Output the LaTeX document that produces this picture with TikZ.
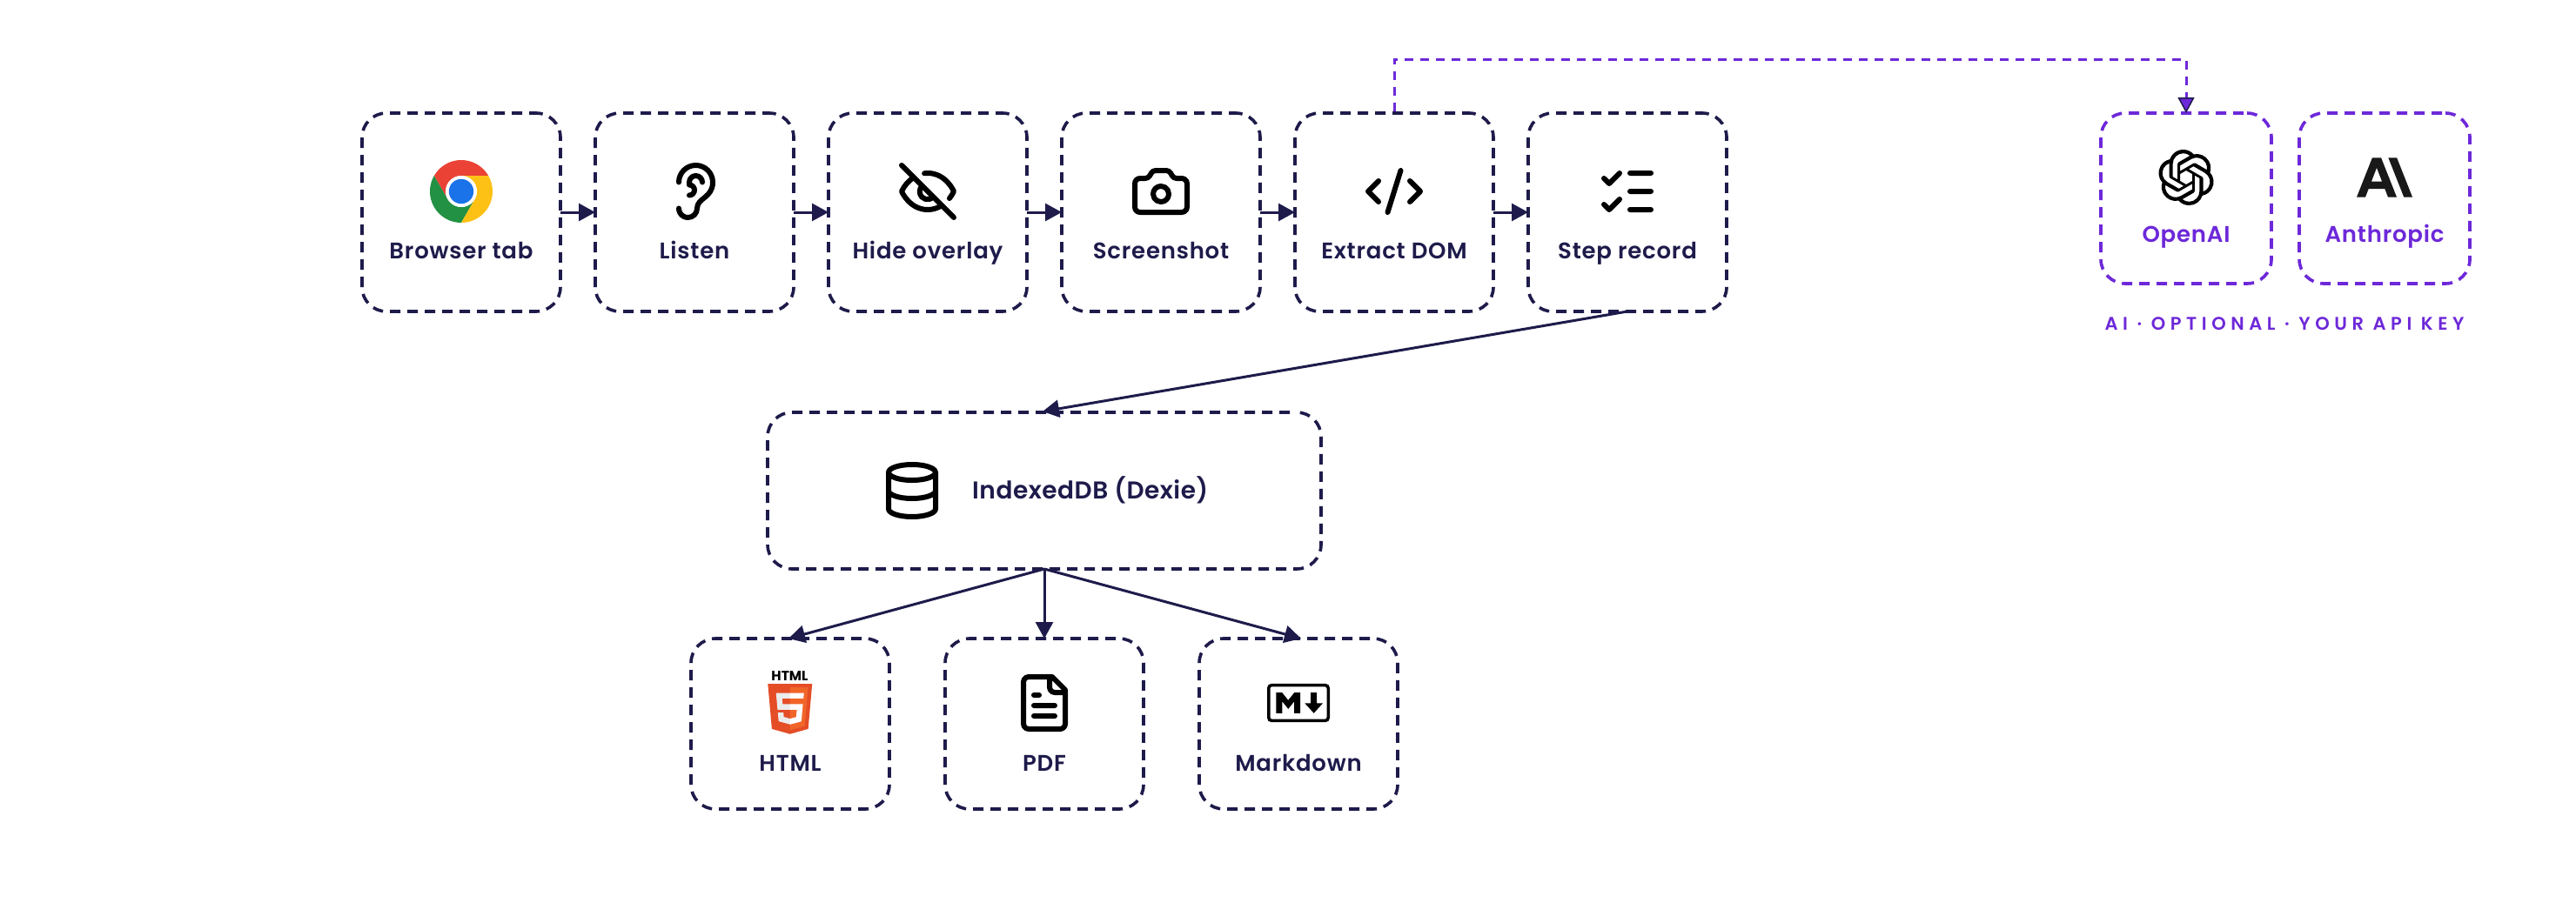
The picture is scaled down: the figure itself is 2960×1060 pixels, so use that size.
\documentclass[tikz,border=0pt]{standalone}
\usepackage{fontspec}
\usetikzlibrary{arrows.meta,svg.path}
\newfontfamily\labelfont[LetterSpace=3]{Poppins SemiBold}
\newfontfamily\dbfont[LetterSpace=1.8]{Poppins SemiBold}
\newfontfamily\capsfont[LetterSpace=26.5]{Poppins SemiBold}
\newfontfamily\logofont{Poppins}
\definecolor{navy}{HTML}{1E1B4B}
\definecolor{vio}{HTML}{6D28D9}
\tikzset{
  x=1pt,y=1pt,
  box/.style={draw=navy,line width=3.6pt,rounded corners=28pt,dash pattern=on 12pt off 8pt,dash phase=16.02pt,minimum width=228pt,minimum height=196pt,inner sep=0pt,outer sep=0pt,fill=none},
  tallbox/.style={box,minimum height=228pt,dash phase=4.02pt},
  dbbox/.style={box,minimum width=636pt,minimum height=180pt,dash phase=12.02pt},
  aibox/.style={box,draw=vio,minimum width=196pt},
  lbl/.style={text=navy,anchor=base,inner sep=0pt,font=\labelfont\fontsize{26}{30}\selectfont},
  ailbl/.style={lbl,text=vio},
  flow/.style={draw=navy,line width=3pt,-{Triangle[length=19pt,width=20pt]}},
  aiflow/.style={draw=vio,line width=3pt,dash pattern=on 10pt off 8pt,dash phase=16pt,-{Triangle[length=18pt,width=19pt,fill=vio,color=navy,line width=1.5pt]}},
  iconline/.style={draw=black,line width=6pt,line cap=round,line join=round,fill=none},
}
\newcommand{\lucide}[3]{\begin{scope}[shift={(#1,#2)},xscale=3,yscale=-3,shift={(-12,-12)}]\path[iconline] svg {#3};\end{scope}}
\begin{document}
\begin{tikzpicture}
\useasboundingbox[fill=white] (0,0) rectangle (2960,-1060);
% boxes
\node[tallbox] (tab) at (530,-244) {};
\node[tallbox] (listen) at (798,-244) {};
\node[tallbox] (hide) at (1066,-244) {};
\node[tallbox] (shot) at (1334,-244) {};
\node[tallbox] (dom) at (1602,-244) {};
\node[tallbox] (rec) at (1870,-244) {};
\node[dbbox] (db) at (1200,-564) {};
\node[box] (html) at (908,-832) {};
\node[box] (pdf) at (1200,-832) {};
\node[box] (md) at (1492,-832) {};
\node[aibox] (openai) at (2512,-228) {};
\node[aibox] (anth) at (2740,-228) {};
\coordinate (lane) at (2100,-68);
% connectors
\draw[flow] (tab.east) -- (listen.west);
\draw[flow] (listen.east) -- (hide.west);
\draw[flow] (hide.east) -- (shot.west);
\draw[flow] (shot.east) -- (dom.west);
\draw[flow] (dom.east) -- (rec.west);
\draw[flow] (rec.south) -- ([xshift=-2pt,yshift=1pt]db.north);
\draw[flow] (db.south) -- ([xshift=-2pt]html.north);
\draw[flow] (db.south) -- (pdf.north);
\draw[flow] (db.south) -- ([xshift=3pt]md.north);
\draw[aiflow] (dom.north) |- (lane) -| (openai.north);
% labels
\node[lbl] (t1) at (530,-297) {Browser tab};
\node[lbl] (t2) at (798,-297) {Listen};
\node[lbl] (t3) at (1066,-297) {Hide overlay};
\node[lbl] (t4) at (1334,-297) {Screenshot};
\node[lbl] (t5) at (1602,-297) {Extract DOM};
\node[lbl] (t6) at (1870,-297) {Step record};
\node[lbl,font=\dbfont\fontsize{28}{32}\selectfont,anchor=base west] (t7) at (1117,-573) {IndexedDB (Dexie)};
\node[lbl] (t8) at (908,-886) {HTML};
\node[lbl] (t9) at (1200,-886) {PDF};
\node[lbl] (t10) at (1492,-886) {Markdown};
\node[ailbl] (t11) at (2512,-278) {OpenAI};
\node[ailbl] (t12) at (2740,-278) {Anthropic};
\node[ailbl,font=\capsfont\fontsize{21}{25}\selectfont] (t13) at (2625,-379) {AI · OPTIONAL · YOUR API KEY};
% chrome
\begin{scope}[shift={(530,-220)}]
\fill[fill={rgb,255:red,234;green,67;blue,53}] (30:36) arc[start angle=30,end angle=150,radius=36] -- (210:18) arc[start angle=210,end angle=90,radius=18] -- cycle;
\fill[fill={rgb,255:red,35;green,145;blue,68}] (150:36) arc[start angle=150,end angle=270,radius=36] -- (330:18) arc[start angle=330,end angle=210,radius=18] -- cycle;
\fill[fill={rgb,255:red,253;green,193;blue,22}] (270:36) arc[start angle=270,end angle=390,radius=36] -- (90:18) arc[start angle=90,end angle=-30,radius=18] -- cycle;
\fill[white] (0,0) circle[radius=18];
\fill[fill={rgb,255:red,26;green,115;blue,232}] (0,0) circle[radius=14.2];
\end{scope}
% ear
\lucide{798}{-220}{M 6 8.5 a 6.5 6.5 0 1 1 13 0 c 0 6 -6 6 -6 10 a 3.5 3.5 0 1 1 -7 0 M 15 8.5 a 2.5 2.5 0 0 0 -5 0 v 1 a 2 2 0 1 1 0 4}
% eye off
\lucide{1066}{-220}{M 9.88 9.88 a 3 3 0 1 0 4.24 4.24 M 10.73 5.08 A 10.43 10.43 0 0 1 12 5 c 7 0 10 7 10 7 a 13.16 13.16 0 0 1 -1.67 2.68 M 6.61 6.61 A 13.526 13.526 0 0 0 2 12 s 3 7 10 7 a 9.74 9.74 0 0 0 5.39 -1.61 M 2 2 L 22 22}
% camera
\lucide{1334}{-220}{M 13.997 4 a 2 2 0 0 1 1.76 1.05 l 0.486 0.9 A 2 2 0 0 0 18.003 7 H 20 a 2 2 0 0 1 2 2 v 9 a 2 2 0 0 1 -2 2 H 4 a 2 2 0 0 1 -2 -2 V 9 a 2 2 0 0 1 2 -2 h 1.997 a 2 2 0 0 0 1.759 -1.048 l 0.489 -0.904 A 2 2 0 0 1 10.004 4 Z M 15 13 a 3 3 0 1 1 -6 0 a 3 3 0 1 1 6 0 Z}
% code
\lucide{1602}{-220}{M 18 16 l 4 -4 l -4 -4 M 6 8 l -4 4 l 4 4 M 14.5 4 l -5 16}
% checks
\lucide{1870}{-220}{M 13 5 h 8 M 13 12 h 8 M 13 19 h 8 M 3 17 l 2 2 l 4 -4 M 3 7 l 2 2 l 4 -4}
% database
\lucide{1048}{-564}{M 21 5 a 9 3 0 1 1 -18 0 a 9 3 0 1 1 18 0 Z M 3 5 V 19 A 9 3 0 0 0 21 19 V 5 M 3 12 A 9 3 0 0 0 21 12}
% file
\lucide{1200}{-808}{M 15 2 H 6 a 2 2 0 0 0 -2 2 v 16 a 2 2 0 0 0 2 2 h 12 a 2 2 0 0 0 2 -2 V 7 Z M 14 2 v 4 a 2 2 0 0 0 2 2 h 4 M 10 9 H 8 M 16 13 H 8 M 16 17 H 8}
% html5
\begin{scope}[shift={(878.9,-786)},xscale=0.1128,yscale=-0.1128]
\fill[fill={rgb,255:red,228;green,77;blue,38}] (71,460) -- (30,0) -- (482,0) -- (441,460) -- (255.8,512) -- cycle;
\fill[fill={rgb,255:red,241;green,101;blue,41}] (256,472) -- (405.7,431) -- (440.7,37) -- (256,37) -- cycle;
\fill[fill={rgb,255:red,235;green,235;blue,235}] (256,208) -- (181,208) -- (176,150) -- (256,150) -- (256,94) -- (114,94) -- (115,109) -- (129,265) -- (256,265) -- cycle;
\fill[fill={rgb,255:red,235;green,235;blue,235}] (256,355) -- (255.8,355) -- (192.8,338) -- (188.8,293) -- (158,293) -- (132,293) -- (140,382) -- (256,414) -- cycle;
\fill[white] (255.8,208) -- (255.8,265) -- (325.8,265) -- (318.8,339) -- (255.8,356) -- (255.8,415) -- (371.8,383) -- (372.8,373) -- (385.8,224) -- (386.8,208) -- cycle;
\fill[white] (255.8,94) -- (255.8,150) -- (392.8,150) -- (393.8,138) -- (396.8,110) -- (397.8,94) -- cycle;
\end{scope}
\node[inner sep=0pt,anchor=base,text=black,font=\logofont\bfseries\fontsize{15.5}{17}\selectfont] (t14) at (907.5,-782.5) {HTML};
% markdown
\begin{scope}[shift={(1492,-808)},xscale=0.346,yscale=-0.346,shift={(-104,-64)}]
\draw[black,line width=3.5pt,rounded corners=3.5pt] (5,5) rectangle (203,123);
\fill[black] (30,98) -- (30,30) -- (50,30) -- (70,55) -- (90,30) -- (110,30) -- (110,98) -- (90,98) -- (90,59) -- (70,84) -- (50,59) -- (50,98) -- cycle;
\fill[black] (155,98) -- (125,65) -- (145,65) -- (145,30) -- (165,30) -- (165,65) -- (185,65) -- cycle;
\end{scope}
% openai
\begin{scope}[shift={(2512,-204)},xscale=2.667,yscale=-2.667,shift={(-12,-12)}]
\fill[black] svg {M 22.2819 9.8211 a 5.9847 5.9847 0 0 0 -0.5157 -4.9108 a 6.0462 6.0462 0 0 0 -6.5098 -2.9 A 6.0651 6.0651 0 0 0 4.9807 4.1818 a 5.9847 5.9847 0 0 0 -3.9977 2.9 a 6.0462 6.0462 0 0 0 0.7427 7.0966 a 5.98 5.98 0 0 0 0.511 4.9107 a 6.051 6.051 0 0 0 6.5146 2.9001 A 5.9847 5.9847 0 0 0 13.2599 24 a 6.0557 6.0557 0 0 0 5.7718 -4.2058 a 5.9894 5.9894 0 0 0 3.9977 -2.9001 a 6.0557 6.0557 0 0 0 -0.7475 -7.0729 Z
M 13.2599 22.4292 a 4.4755 4.4755 0 0 1 -2.8764 -1.0408 l 0.1419 -0.0804 l 4.7783 -2.7582 a 0.7948 0.7948 0 0 0 0.3927 -0.6813 v -6.7369 l 2.02 1.1686 l 0.038 0.052 v 5.5826 a 4.504 4.504 0 0 1 -4.4945 4.4944 Z
M 3.5992 18.3038 a 4.4708 4.4708 0 0 1 -0.5346 -3.0137 l 0.142 0.0852 l 4.783 2.7582 a 0.7712 0.7712 0 0 0 0.7806 0 l 5.8428 -3.3685 v 2.3324 l -0.0332 0.0615 L 9.74 19.9502 a 4.4992 4.4992 0 0 1 -6.1408 -1.6464 Z
M 2.3408 7.8956 a 4.485 4.485 0 0 1 2.3655 -1.9728 V 11.6 a 0.7664 0.7664 0 0 0 0.3879 0.6765 l 5.8144 3.3543 l -2.0201 1.1685 l -0.071 0 l -4.8303 -2.7865 A 4.504 4.504 0 0 1 2.3408 7.872 Z
M 18.9371 11.7514 L 13.1038 8.364 L 15.1192 7.2 l 0.071 0 l 4.8303 2.7913 a 4.4944 4.4944 0 0 1 -0.6765 8.1042 v -5.6772 a 0.79 0.79 0 0 0 -0.407 -0.667 Z
M 20.9478 8.7283 l -0.142 -0.0852 l -4.7735 -2.7818 a 0.7759 0.7759 0 0 0 -0.7854 0 L 9.409 9.2297 V 6.8974 l 0.0284 -0.0615 l 4.8303 -2.7866 a 4.4992 4.4992 0 0 1 6.6802 4.66 Z
M 8.3065 12.863 l -2.02 -1.1638 l -0.038 -0.0567 V 6.0742 a 4.4992 4.4992 0 0 1 7.3757 -3.4537 l -0.142 0.0805 L 8.704 5.459 a 0.7948 0.7948 0 0 0 -0.3927 0.6813 Z
M 9.4041 10.4976 l 2.602 -1.4998 l 2.6069 1.4998 v 2.9994 l -2.5974 1.4997 l -2.6067 -1.4997 Z};
\end{scope}
% anthropic
\begin{scope}[shift={(2740,-204)},xscale=2.667,yscale=-2.667,shift={(-12,-12)}]
\fill[fill={rgb,255:red,25;green,25;blue,25}] svg {M 17.3041 3.541 h -3.6718 l 6.696 16.918 H 24 Z M 6.6959 3.5409 L 0 20.459 h 3.7442 l 1.3693 -3.5527 h 7.0052 l 1.3693 3.5528 h 3.7442 L 10.5363 3.5409 Z M 6.3247 13.7641 l 2.2914 -5.9456 l 2.2914 5.9456 Z};
\end{scope}
\end{tikzpicture}
\end{document}
